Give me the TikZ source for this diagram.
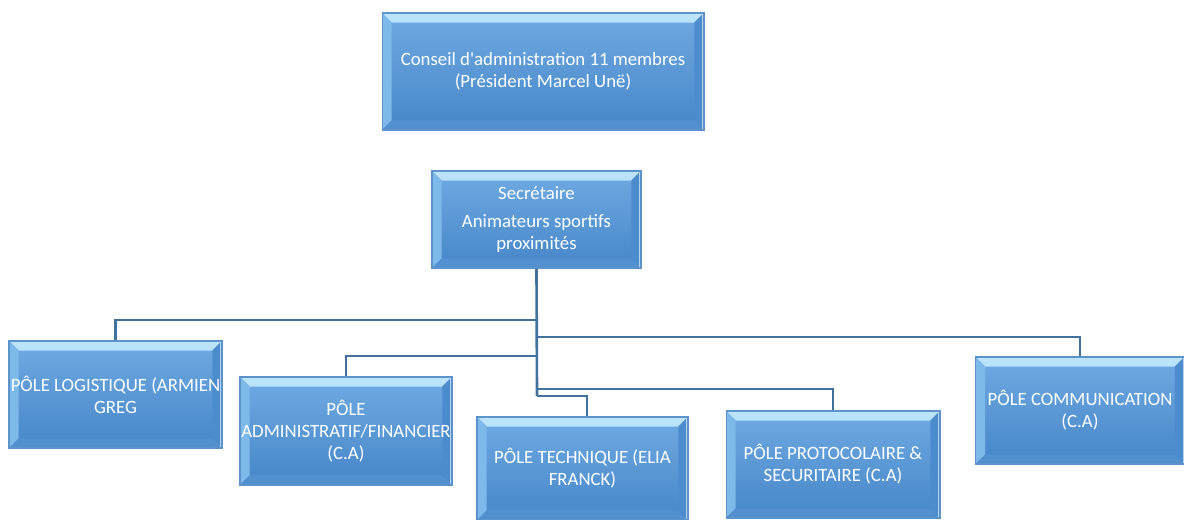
\documentclass[tikz,border=0pt]{standalone}
\usepackage{fontspec}
\setmainfont{Carlito}
\usepackage{xcolor}
\definecolor{boxtop}{HTML}{6FAAE2}
\definecolor{boxbot}{HTML}{4686C8}
\definecolor{boxedge}{HTML}{5D93CB}
\definecolor{bevhigh}{HTML}{BDE4FA}
\definecolor{bevlow}{HTML}{86C2EE}
\definecolor{bevleft}{HTML}{7DB9EA}
\definecolor{bevright}{HTML}{4C8CCD}
\definecolor{bevbottom}{HTML}{5390CF}
\definecolor{linkcol}{HTML}{41719C}

\newcommand{\bevelfaces}{%
  \shade[top color=bevhigh,bottom color=bevlow]
    (path picture bounding box.north west) -- (path picture bounding box.north east)
    -- ([shift={(-5.5pt,-5.5pt)}]path picture bounding box.north east)
    -- ([shift={(5.5pt,-5.5pt)}]path picture bounding box.north west) -- cycle;
  \fill[bevleft]
    (path picture bounding box.north west) -- ([shift={(5.5pt,-5.5pt)}]path picture bounding box.north west)
    -- ([shift={(5.5pt,5.5pt)}]path picture bounding box.south west)
    -- (path picture bounding box.south west) -- cycle;
  \fill[bevright]
    (path picture bounding box.north east) -- ([shift={(-5.5pt,-5.5pt)}]path picture bounding box.north east)
    -- ([shift={(-5.5pt,5.5pt)}]path picture bounding box.south east)
    -- (path picture bounding box.south east) -- cycle;
  \fill[bevbottom]
    (path picture bounding box.south west) -- ([shift={(5.5pt,5.5pt)}]path picture bounding box.south west)
    -- ([shift={(-5.5pt,5.5pt)}]path picture bounding box.south east)
    -- (path picture bounding box.south east) -- cycle;
  \draw[white,opacity=0.6,line width=0.8pt]
    ([xshift=-0.6pt]path picture bounding box.north east) -- ([xshift=-0.6pt]path picture bounding box.south east);
}

\tikzset{
  bevelbox/.style 2 args={rectangle, draw=boxedge, line width=0.6pt,
    top color=boxtop, bottom color=boxbot, text=white, align=center,
    font=\fontsize{10.7}{12.6}\selectfont, inner sep=0pt,
    minimum width=#1, minimum height=#2, path picture={\bevelfaces}},
  link/.style={draw=linkcol, line width=1.5pt}
}

\begin{document}
\begin{tikzpicture}[x=0.02cm,y=-0.02cm]
  \useasboundingbox (0,0) rectangle (1184,520);

  \node[bevelbox={6.44cm}{2.34cm}] (conseil) at (543,71.5)
    {Conseil d\textquotesingle administration 11 membres\\(Président Marcel Unë)};
  \node[bevelbox={4.18cm}{1.94cm}] (secr) at (536.5,219.5)
    {Secrétaire\\[3pt]Animateurs sportifs\\proximités};

  \node[bevelbox={4.26cm}{2.14cm}] (logi) at (115.5,394.5) {PÔLE LOGISTIQUE (ARMIEN\\GREG};
  \node[bevelbox={4.24cm}{2.16cm}] (admin) at (346,431) {PÔLE\\ADMINISTRATIF/FINANCIER\\(C.A)};
  \node[bevelbox={4.22cm}{2.06cm}] (tech) at (582.5,468.5) {PÔLE TECHNIQUE (ELIA\\FRANCK)};
  \node[bevelbox={4.28cm}{2.14cm}] (proto) at (833,464.5) {PÔLE PROTOCOLAIRE \&\\SECURITAIRE (C.A)};
  \node[bevelbox={4.18cm}{2.14cm}] (comm) at (1080,410.5) {PÔLE COMMUNICATION\\(C.A)};

  \coordinate (jlogi) at (537,320);
  \coordinate (jcomm) at (537,337);
  \coordinate (jadmin) at (537,356);
  \coordinate (jproto) at (537,389);
  \coordinate (jtech) at (537,396);

  \draw[link] (secr.south) -- (jtech);
  \draw[link] (jlogi) -| (logi.north);
  \draw[link] (jcomm) -| (comm.north);
  \draw[link] (jadmin) -| (admin.north);
  \draw[link] (jproto) -| (proto.north);
  \draw[link] (jtech) -| ([xshift=0.09cm]tech.north);
\end{tikzpicture}
\end{document}
